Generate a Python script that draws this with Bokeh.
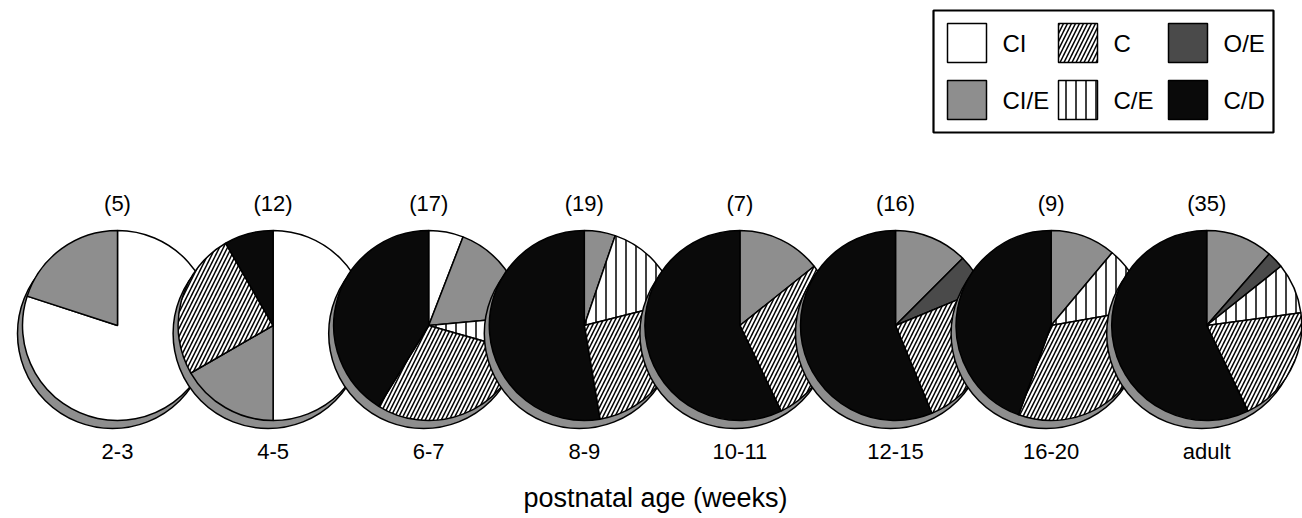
import math
from bokeh.plotting import figure
from bokeh.models import ColumnDataSource, Range1d
from bokeh.core.properties import value
from bokeh.embed import file_html
from bokeh.resources import INLINE

# ---- data (counts of cells per class, per postnatal age group) ----
ages = ["2-3", "4-5", "6-7", "8-9", "10-11", "12-15", "16-20", "adult"]
totals = [5, 12, 17, 19, 7, 16, 9, 35]
classes = ["CI", "CI/E", "O/E", "C/E", "C", "C/D"]
CI = [4, 6, 1, 0, 0, 0, 0, 0]
CI_E = [1, 2, 3, 1, 1, 2, 1, 4]
O_E = [0, 0, 0, 0, 0, 1, 0, 1]
C_E = [0, 0, 1, 3, 0, 0, 1, 3]
C = [0, 3, 5, 5, 2, 4, 3, 7]
C_D = [0, 1, 7, 10, 4, 9, 4, 20]
series = {"CI": CI, "CI/E": CI_E, "O/E": O_E, "C/E": C_E, "C": C, "C/D": C_D}
legend_rows = [["CI", "C", "O/E"], ["CI/E", "C/E", "C/D"]]
x_title = "postnatal age (weeks)"

# ---- styles ----
style = {
    "CI": ("white", " ", 10),
    "CI/E": ("#8e8e8e", " ", 10),
    "O/E": ("#4a4a4a", " ", 10),
    "C/E": ("white", "|", 10),
    "C": ("white", "/", 8),
    "C/D": ("#0a0a0a", " ", 10),
}
FONT = value("Liberation Sans")
W, H = 1302, 518
R = 95
X0, DX, CY = 117, 155.6, 325
SH_DX, SH_DY = -5, 8


def Y(py):
    return H - py


p = figure(width=W, height=H, x_range=Range1d(0, W), y_range=Range1d(0, H),
           output_backend="svg", toolbar_location=None,
           x_axis_type=None, y_axis_type=None, min_border=0,
           outline_line_color=None, background_fill_color="white")

for i, age in enumerate(ages):
    cx = X0 + i * DX
    cy = Y(CY)
    n = totals[i]
    # drop shadow
    p.circle(x=[cx + SH_DX], y=[cy - SH_DY], radius=R, fill_color="#8e8e8e",
             line_color="black", line_width=1.5)
    d = dict(x=[], y=[], s=[], e=[], fill=[], hatch=[], hs=[])
    cum = 0
    for cls in classes:
        v = series[cls][i]
        if v == 0:
            continue
        d["x"].append(cx)
        d["y"].append(cy)
        d["s"].append(math.pi / 2 - 2 * math.pi * cum / n)
        cum += v
        d["e"].append(math.pi / 2 - 2 * math.pi * cum / n)
        f, h, hs = style[cls]
        d["fill"].append(f)
        d["hatch"].append(h)
        d["hs"].append(hs)
    src = ColumnDataSource(d)
    p.wedge(x="x", y="y", radius=R, start_angle="s", end_angle="e",
            direction="clock", source=src, fill_color="fill",
            hatch_pattern="hatch", hatch_scale="hs", hatch_color="black",
            hatch_weight=1.5, line_color="black", line_width=1.5)

# labels
xs = [X0 + i * DX for i in range(len(ages))]
p.text(x=xs, y=[Y(203)] * len(ages), text=[f"({t})" for t in totals],
       text_font=FONT, text_font_size="22px", text_align="center",
       text_baseline="middle", text_color="black")
p.text(x=xs, y=[Y(451)] * len(ages), text=ages,
       text_font=FONT, text_font_size="22px", text_align="center",
       text_baseline="middle", text_color="black")
p.text(x=[655], y=[Y(497)], text=[x_title], text_font=FONT,
       text_font_size="27px", text_align="center", text_baseline="middle",
       text_color="black")

# legend box
p.quad(left=[933], right=[1273], top=[Y(10)], bottom=[Y(132)],
       fill_color="white", line_color="black", line_width=2.2)
col_left = [947, 1058, 1168]
row_top = [23, 80]
SW = 39
ld = dict(l=[], r=[], t=[], b=[], fill=[], hatch=[], hs=[])
tx, ty, tt = [], [], []
for ri, row in enumerate(legend_rows):
    for ci, cls in enumerate(row):
        f, h, hs = style[cls]
        ld["l"].append(col_left[ci])
        ld["r"].append(col_left[ci] + SW)
        ld["t"].append(Y(row_top[ri]))
        ld["b"].append(Y(row_top[ri] + SW))
        ld["fill"].append(f)
        ld["hatch"].append(h)
        ld["hs"].append(hs)
        tx.append(col_left[ci] + SW + 16)
        ty.append(Y(row_top[ri] + SW / 2))
        tt.append(cls)
p.quad(left="l", right="r", top="t", bottom="b", source=ColumnDataSource(ld),
       fill_color="fill", hatch_pattern="hatch", hatch_scale="hs",
       hatch_color="black", hatch_weight=1.5, line_color="black", line_width=1.5)
p.text(x=tx, y=ty, text=tt, text_font=FONT, text_font_size="24px",
       text_align="left", text_baseline="middle", text_color="black")

open("out.html", "w").write(file_html(p, INLINE))
